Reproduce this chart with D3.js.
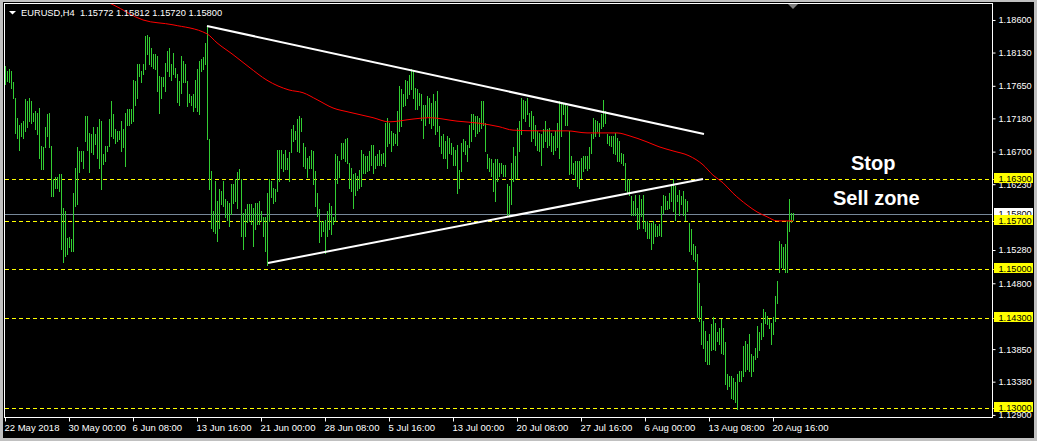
<!DOCTYPE html>
<html><head><meta charset="utf-8">
<script src="https://cdn.jsdelivr.net/npm/d3@7"></script>
<style>html,body{margin:0;padding:0;background:#000;overflow:hidden}</style>
</head><body>
<svg id="c" width="1037" height="441"></svg>
<script>
const titleText = "EURUSD,H4  1.15772 1.15812 1.15720 1.15800";

const highs = [
1.1794,1.1786,1.1789,1.1787,1.1770,1.1748,1.1719,1.1709,1.1712,1.1714,
1.1746,1.1743,1.1748,1.1743,1.1726,1.1729,1.1726,1.1733,1.1678,1.1676,
1.1705,1.1724,1.1726,1.1678,1.1630,1.1633,1.1633,1.1637,1.1637,1.1589,
1.1584,1.1546,1.1547,1.1544,1.1611,1.1647,1.1676,1.1671,1.1671,1.1671,
1.1722,1.1722,1.1697,1.1695,1.1705,1.1695,1.1705,1.1717,1.1714,1.1666,
1.1678,1.1678,1.1717,1.1743,1.1724,1.1702,1.1700,1.1700,1.1714,1.1702,
1.1726,1.1731,1.1731,1.1731,1.1774,1.1772,1.1796,1.1796,1.1786,1.1796,
1.1837,1.1839,1.1835,1.1820,1.1811,1.1811,1.1808,1.1779,1.1777,1.1777,
1.1798,1.1815,1.1820,1.1796,1.1813,1.1791,1.1782,1.1772,1.1808,1.1801,
1.1796,1.1772,1.1753,1.1750,1.1753,1.1774,1.1789,1.1801,1.1803,1.1806,
1.1827,1.1851,1.1688,1.1642,1.1584,1.1628,1.1599,1.1616,1.1613,1.1628,
1.1601,1.1599,1.1596,1.1623,1.1623,1.1630,1.1640,1.1645,1.1630,1.1582,
1.1587,1.1594,1.1594,1.1594,1.1589,1.1596,1.1596,1.1599,1.1584,1.1575,
1.1576,1.1611,1.1630,1.1628,1.1618,1.1616,1.1673,1.1673,1.1673,1.1666,
1.1673,1.1661,1.1669,1.1702,1.1709,1.1700,1.1717,1.1722,1.1719,1.1683,
1.1676,1.1661,1.1664,1.1673,1.1671,1.1642,1.1611,1.1587,1.1570,1.1570,
1.1572,1.1584,1.1596,1.1592,1.1575,1.1666,1.1664,1.1657,1.1683,1.1683,
1.1688,1.1690,1.1654,1.1647,1.1637,1.1639,1.1635,1.1644,1.1673,1.1666,
1.1664,1.1664,1.1671,1.1680,1.1680,1.1664,1.1666,1.1673,1.1666,1.1668,
1.1712,1.1719,1.1712,1.1700,1.1697,1.1695,1.1728,1.1765,1.1760,1.1753,
1.1774,1.1772,1.1781,1.1789,1.1786,1.1762,1.1760,1.1755,1.1753,1.1738,
1.1738,1.1750,1.1748,1.1740,1.1753,1.1743,1.1757,1.1707,1.1692,1.1695,
1.1685,1.1692,1.1690,1.1683,1.1676,1.1673,1.1680,1.1644,1.1683,1.1688,
1.1685,1.1680,1.1709,1.1724,1.1724,1.1721,1.1721,1.1719,1.1743,1.1743,
1.1712,1.1666,1.1661,1.1659,1.1654,1.1659,1.1659,1.1654,1.1654,1.1651,
1.1651,1.1623,1.1620,1.1654,1.1676,1.1664,1.1704,1.1714,1.1748,1.1745,
1.1743,1.1748,1.1726,1.1728,1.1721,1.1709,1.1700,1.1697,1.1695,1.1702,
1.1714,1.1702,1.1704,1.1697,1.1692,1.1700,1.1712,1.1743,1.1740,1.1740,
1.1738,1.1736,1.1700,1.1664,1.1654,1.1656,1.1656,1.1656,1.1661,1.1664,
1.1664,1.1664,1.1676,1.1695,1.1719,1.1716,1.1714,1.1712,1.1724,1.1745,
1.1728,1.1695,1.1692,1.1692,1.1692,1.1697,1.1690,1.1685,1.1668,1.1666,
1.1654,1.1630,1.1630,1.1606,1.1599,1.1608,1.1589,1.1608,1.1601,1.1608,
1.1570,1.1570,1.1567,1.1567,1.1570,1.1565,1.1562,1.1565,1.1591,1.1608,
1.1606,1.1599,1.1611,1.1623,1.1630,1.1620,1.1608,1.1615,1.1606,1.1613,
1.1601,1.1599,1.1567,1.1558,1.1537,1.1534,1.1522,1.1481,1.1447,1.1426,
1.1411,1.1397,1.1407,1.1421,1.1431,1.1423,1.1409,1.1416,1.1428,1.1416,
1.1395,1.1349,1.1346,1.1346,1.1344,1.1337,1.1349,1.1354,1.1354,1.1390,
1.1397,1.1392,1.1407,1.1378,1.1375,1.1387,1.1419,1.1409,1.1423,1.1443,
1.1438,1.1433,1.1428,1.1423,1.1431,1.1462,1.1484,1.1541,1.1536,1.1532,
1.1536,1.1570,1.1601,1.1582,1.15812];

const lows = [
1.1767,1.1772,1.1770,1.1762,1.1748,1.1697,1.1690,1.1673,1.1693,1.1690,
1.1700,1.1705,1.1714,1.1712,1.1714,1.1702,1.1695,1.1661,1.1645,1.1645,
1.1676,1.1693,1.1676,1.1606,1.1606,1.1618,1.1618,1.1613,1.1529,1.1510,
1.1519,1.1522,1.1532,1.1527,1.1527,1.1592,1.1594,1.1640,1.1657,1.1647,
1.1685,1.1673,1.1640,1.1669,1.1666,1.1681,1.1661,1.1647,1.1616,1.1652,
1.1657,1.1671,1.1678,1.1693,1.1690,1.1683,1.1685,1.1688,1.1671,1.1676,
1.1649,1.1709,1.1709,1.1712,1.1714,1.1738,1.1748,1.1779,1.1770,1.1782,
1.1789,1.1811,1.1796,1.1794,1.1791,1.1789,1.1758,1.1726,1.1748,1.1765,
1.1758,1.1786,1.1779,1.1774,1.1782,1.1777,1.1741,1.1738,1.1755,1.1770,
1.1770,1.1736,1.1741,1.1738,1.1729,1.1734,1.1729,1.1724,1.1786,1.1789,
1.1796,1.1688,1.1616,1.1560,1.1556,1.1553,1.1541,1.1560,1.1594,1.1592,
1.1575,1.1572,1.1563,1.1580,1.1596,1.1599,1.1589,1.1630,1.1548,1.1529,
1.1548,1.1568,1.1570,1.1565,1.1534,1.1558,1.1565,1.1565,1.1570,1.1548,
1.1527,1.1507,1.1570,1.1604,1.1596,1.1599,1.1613,1.1628,1.1647,1.1642,
1.1645,1.1645,1.1628,1.1669,1.1685,1.1688,1.1671,1.1669,1.1700,1.1649,
1.1647,1.1633,1.1647,1.1647,1.1623,1.1592,1.1577,1.1539,1.1548,1.1556,
1.1524,1.1548,1.1558,1.1551,1.1565,1.1570,1.1625,1.1633,1.1659,1.1661,
1.1657,1.1654,1.1618,1.1613,1.1589,1.1608,1.1615,1.1618,1.1620,1.1639,
1.1639,1.1642,1.1644,1.1651,1.1639,1.1647,1.1651,1.1651,1.1651,1.1654,
1.1649,1.1678,1.1683,1.1671,1.1680,1.1683,1.1680,1.1700,1.1707,1.1736,
1.1738,1.1748,1.1753,1.1760,1.1748,1.1731,1.1731,1.1738,1.1716,1.1690,
1.1709,1.1721,1.1712,1.1704,1.1709,1.1695,1.1700,1.1678,1.1668,1.1661,
1.1661,1.1647,1.1668,1.1666,1.1651,1.1651,1.1611,1.1618,1.1642,1.1671,
1.1666,1.1656,1.1676,1.1685,1.1702,1.1692,1.1697,1.1700,1.1704,1.1709,
1.1671,1.1647,1.1642,1.1635,1.1613,1.1599,1.1627,1.1635,1.1639,1.1635,
1.1635,1.1579,1.1577,1.1594,1.1627,1.1630,1.1632,1.1671,1.1695,1.1719,
1.1714,1.1724,1.1707,1.1685,1.1690,1.1680,1.1673,1.1671,1.1651,1.1676,
1.1685,1.1676,1.1680,1.1671,1.1666,1.1673,1.1676,1.1661,1.1692,1.1724,
1.1709,1.1709,1.1637,1.1639,1.1637,1.1630,1.1620,1.1618,1.1632,1.1642,
1.1647,1.1644,1.1647,1.1668,1.1690,1.1692,1.1700,1.1692,1.1704,1.1707,
1.1712,1.1683,1.1680,1.1678,1.1668,1.1666,1.1656,1.1656,1.1654,1.1651,
1.1615,1.1611,1.1608,1.1579,1.1579,1.1579,1.1558,1.1560,1.1577,1.1560,
1.1555,1.1546,1.1546,1.1529,1.1538,1.1548,1.1548,1.1550,1.1548,1.1582,
1.1587,1.1587,1.1589,1.1599,1.1584,1.1572,1.1599,1.1579,1.1594,1.1579,
1.1572,1.1584,1.1526,1.1522,1.1515,1.1512,1.1431,1.1426,1.1392,1.1387,
1.1368,1.1363,1.1363,1.1383,1.1385,1.1383,1.1397,1.1392,1.1380,1.1378,
1.1334,1.1327,1.1332,1.1315,1.1313,1.1308,1.1298,1.1339,1.1339,1.1346,
1.1354,1.1356,1.1354,1.1346,1.1354,1.1371,1.1373,1.1383,1.1399,1.1404,
1.1423,1.1421,1.1416,1.1392,1.1407,1.1426,1.1452,1.1496,1.1503,1.1500,
1.1496,1.1496,1.1556,1.1568,1.15720];

// moving average, read at selected bars
const maBars   = [45,54,69,84,101,106,114,122,131,142,149,156,164,172,184,192,204,212,226,237,247,254,267,281,291,306,312,321,327,334,342,349,354,359,364,371,376,381,386,394];
const maValues = [1.1893,1.1882,1.1860,1.1853,1.1840,1.1827,1.1810,1.1792,1.1773,1.1759,1.1755,1.1745,1.1733,1.1727,1.1719,1.1713,1.1717,1.1719,1.1714,1.1711,1.1706,1.1701,1.1700,1.1700,1.1697,1.1697,1.1693,1.1684,1.1677,1.1671,1.1664,1.1651,1.1636,1.1625,1.1610,1.1593,1.1583,1.1576,1.1570,1.1570];

// trend lines: [startBar, startPrice, endBar, endPrice]
const trendUpper = [101, 1.18513, 349.5, 1.16955];
const trendLower = [131.5, 1.15093, 349, 1.16305];

const levels = [1.16300, 1.15700, 1.15000, 1.14300, 1.13000];
const bidPrice = 1.15800;
const priceTicks = [1.18600,1.18130,1.17650,1.17180,1.16700,1.16230,1.15280,1.14800,1.13850,1.13380,1.12900];
const timeTickBars = [0,32,64,96,128,160,192,224,256,288,320,352,384];
const timeTickLabels = ["22 May 2018","30 May 00:00","6 Jun 08:00","13 Jun 16:00","21 Jun 00:00","28 Jun 08:00","5 Jul 16:00","13 Jul 00:00","20 Jul 08:00","27 Jul 16:00","6 Aug 00:00","13 Aug 08:00","20 Aug 16:00"];
const notes = [{text:"Stop", bar:423, price:1.16442},{text:"Sell zone", bar:414, price:1.15930}];

const svg = d3.select("#c");
const FONT = "'Liberation Sans', Arial, sans-serif";
const L = 5, R = 992, T = 3, B = 417;

const x = d3.scaleLinear().domain([0, 493.5]).range([L, R]);
const y = d3.scaleLinear().domain([1.12870, 1.18845]).range([B, T]);

// window frame
svg.append("rect").attr("width",1037).attr("height",441).attr("fill","#c0c0c0");
svg.append("rect").attr("x",3).attr("y",2).attr("width",1031).attr("height",436).attr("fill","#000");

const defs = svg.append("defs");
defs.append("clipPath").attr("id","plot").append("rect")
  .attr("x",L).attr("y",T+1).attr("width",R-L).attr("height",B-T-1);

const plot = svg.append("g").attr("clip-path","url(#plot)");

// level lines
plot.selectAll("line.lvl").data(levels).join("line")
  .attr("x1",L).attr("x2",R)
  .attr("y1",d=>Math.round(y(d))+0.5).attr("y2",d=>Math.round(y(d))+0.5)
  .attr("stroke","#ffff00").attr("stroke-width",1).attr("stroke-dasharray","4,3");
svg.selectAll("line.lvlx").data(levels).join("line")
  .attr("x1",R).attr("x2",996)
  .attr("y1",d=>Math.round(y(d))+0.5).attr("y2",d=>Math.round(y(d))+0.5)
  .attr("stroke","#ffff00").attr("stroke-width",1).attr("stroke-dasharray","3,2");

// bid line
plot.append("line").attr("x1",L).attr("x2",R)
  .attr("y1",Math.round(y(bidPrice))+0.5).attr("y2",Math.round(y(bidPrice))+0.5)
  .attr("stroke","#778899").attr("stroke-width",1);

// bars
plot.append("g").attr("shape-rendering","crispEdges").selectAll("line").data(highs).join("line")
  .attr("x1",(d,i)=>Math.round(x(i))+0.5).attr("x2",(d,i)=>Math.round(x(i))+0.5)
  .attr("y1",d=>Math.round(y(d)))
  .attr("y2",(d,i)=>Math.max(Math.round(y(lows[i])), Math.round(y(d))+1)+1)
  .attr("stroke","rgb(50,205,50)").attr("stroke-width",1);

// moving average
const maLine = d3.line().x((d,i)=>x(maBars[i])).y(d=>y(d)).curve(d3.curveMonotoneX);
plot.append("path").attr("d",maLine(maValues)).attr("fill","none")
  .attr("stroke","#ff0000").attr("stroke-width",1);

// trend lines
[trendUpper, trendLower].forEach(t=>{
  plot.append("line").attr("x1",x(t[0])).attr("y1",y(t[1]))
    .attr("x2",x(t[2])).attr("y2",y(t[3]))
    .attr("stroke","#ffffff").attr("stroke-width",2);
});

// notes
svg.selectAll("text.note").data(notes).join("text")
  .attr("x",d=>x(d.bar)).attr("y",d=>y(d.price))
  .attr("fill","#fff").attr("font-family",FONT).attr("font-weight","bold")
  .attr("font-size","20px").text(d=>d.text);

// chart frame
svg.append("rect").attr("x",L-0.5).attr("y",T+0.5).attr("width",R-L+1).attr("height",B-T)
  .attr("fill","none").attr("stroke","#fff").attr("stroke-width",1).attr("shape-rendering","crispEdges");

// price axis
const yAxis = d3.axisRight(y).tickValues(priceTicks).tickSize(3).tickPadding(3).tickFormat(d3.format(".5f"));
const ya = svg.append("g").attr("transform",`translate(${R+0.5},0)`).call(yAxis);
ya.select(".domain").remove();
ya.selectAll("line").attr("stroke","#fff");
ya.selectAll("text").attr("fill","#fff").attr("font-family",FONT).attr("font-size","9.2px");

// highlighted price labels
function priceBox(p, bg){
  const yy = Math.round(y(p));
  svg.append("rect").attr("x",994).attr("y",yy-6).attr("width",39).attr("height",10).attr("fill",bg);
  svg.append("text").attr("x",998.5).attr("y",yy+3).attr("fill","#000")
    .attr("font-family",FONT).attr("font-size","9.2px").text(d3.format(".5f")(p));
}
priceBox(bidPrice, "#ffffff");
levels.forEach(p=>priceBox(p, "#ffff00"));

// time axis
const xAxis = d3.axisBottom(x).tickValues(timeTickBars).tickSize(4).tickPadding(3)
  .tickFormat((d,i)=>timeTickLabels[i]);
const xa = svg.append("g").attr("transform",`translate(0,${B+0.5})`).call(xAxis);
xa.select(".domain").remove();
xa.selectAll("line").attr("stroke","#fff");
xa.selectAll("text").attr("fill","#fff").attr("font-family",FONT).attr("font-size","9.5px")
  .attr("text-anchor","start").attr("x",-1);

// title
svg.append("path").attr("d","M9,11 L16,11 L12.5,14.5 Z").attr("fill","#fff");
svg.append("text").attr("x",21).attr("y",16).attr("fill","#fff")
  .attr("font-family",FONT).attr("font-size","9.3px").attr("xml:space","preserve")
  .style("white-space","pre").text(titleText);

// shift marker
svg.append("path").attr("d","M788,4 L798,4 L793,9 Z").attr("fill","#808080");
</script>
</body></html>
